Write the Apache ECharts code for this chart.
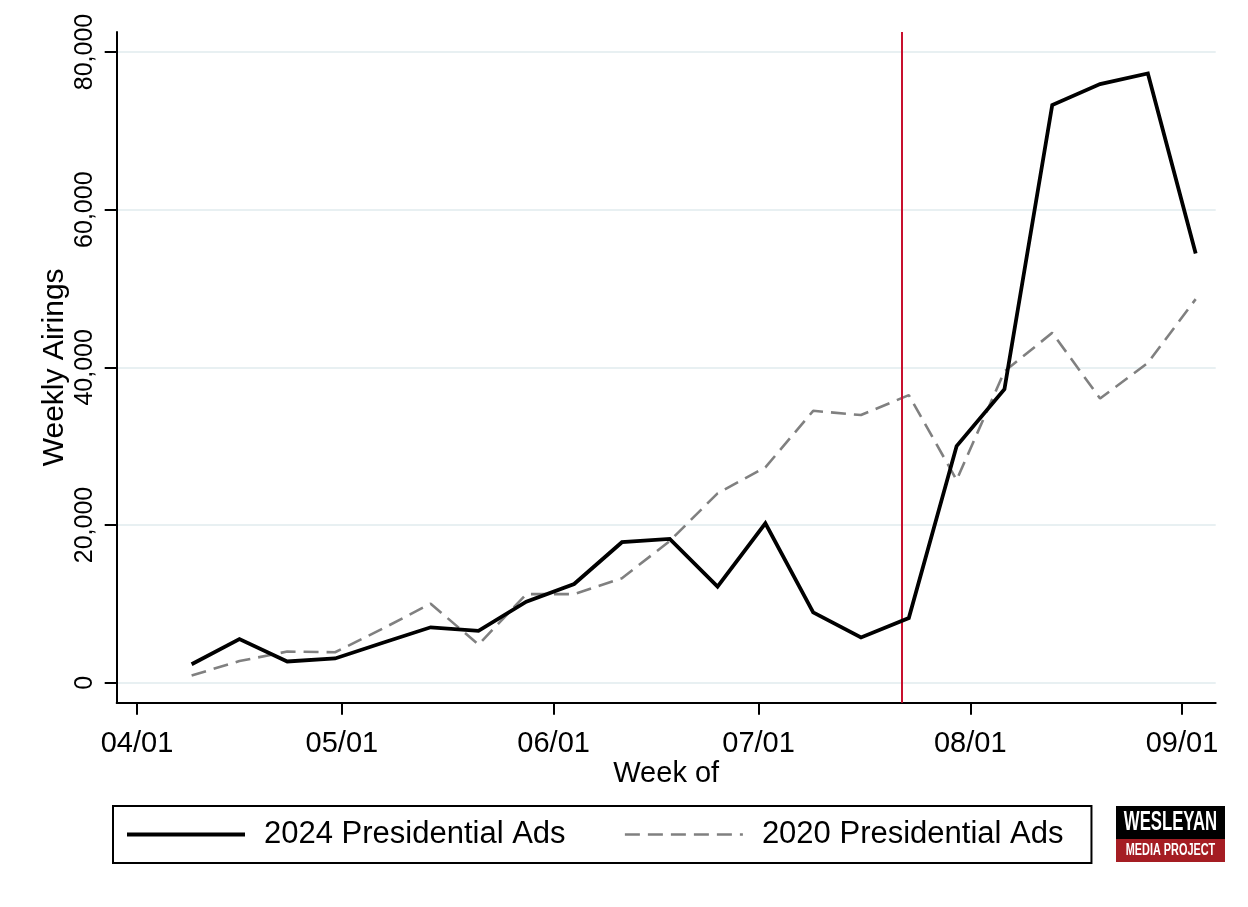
<!DOCTYPE html>
<html>
<head>
<meta charset="utf-8">
<script src="https://cdn.jsdelivr.net/npm/echarts@6/dist/echarts.min.js"></script>
<style>
html,body{margin:0;padding:0;background:#fff;}
#chart{width:1248px;height:907px;}
</style>
</head>
<body>
<div id="chart"></div>
<script>
// ---- data ----
const weeks = ['2024-04-09','2024-04-16','2024-04-23','2024-04-30','2024-05-07','2024-05-14','2024-05-21','2024-05-28','2024-06-04','2024-06-11','2024-06-18','2024-06-25','2024-07-02','2024-07-09','2024-07-16','2024-07-23','2024-07-30','2024-08-06','2024-08-13','2024-08-20','2024-08-27','2024-09-03'];
const ads2024 = [2370, 5560, 2730, 3110, 5100, 7060, 6600, 10310, 12550, 17850, 18270, 12230, 20250, 8950, 5780, 8230, 30040, 37250, 73280, 75940, 77290, 54460];
const ads2020 = [950, 2780, 3980, 3900, 6900, 10060, 4860, 11270, 11260, 13280, 18000, 24050, 27340, 34510, 33970, 36500, 25740, 39500, 44400, 36070, 40590, 48670];
const xTickLabels = ['04/01','05/01','06/01','07/01','08/01','09/01'];
const yTickValues = [0, 20000, 40000, 60000, 80000];
const eventDate = '2024-07-22';
const seriesNames = ['2024 Presidential Ads', '2020 Presidential Ads'];

const FONT = "'Liberation Sans', Arial, sans-serif";
const toDate = s => { const p = s.split('-').map(Number); return new Date(p[0], p[1]-1, p[2]); };
const xTicks = xTickLabels.map(t => { const p = t.split('/').map(Number); return new Date(2024, p[0]-1, p[1]).getTime(); });
const xMin = new Date(2024, 2, 29, 0, 45).getTime();
const xMax = new Date(2024, 8, 5, 22, 20).getTime();
const pad2 = n => (n < 10 ? '0' : '') + n;

const chart = echarts.init(document.getElementById('chart'), null, {renderer: 'canvas'});
const option = {
  backgroundColor: '#fff',
  animation: false,
  textStyle: {fontFamily: FONT},
  grid: [
    // grid 0: labelled value scale (0..80,000)
    {left: 116.7, right: 32.3, top: 52, bottom: 224.3},
    // grid 1: plot frame, holds the series
    {left: 116.7, right: 32.3, top: 32, bottom: 204.3}
  ],
  xAxis: [
    {gridIndex: 0, type: 'value', min: xMin, max: xMax, show: false},
    {gridIndex: 1, type: 'value', min: xMin, max: xMax,
      name: 'Week of', nameLocation: 'middle', nameGap: 57, nameMoveOverlap: false,
      nameTextStyle: {fontSize: 29, color: '#000', fontFamily: FONT},
      axisLine: {show: true, onZero: false, lineStyle: {color: '#000', width: 2}},
      axisTick: {show: true, length: 12, lineStyle: {color: '#000', width: 2}, customValues: xTicks},
      axisLabel: {show: true, customValues: xTicks, fontSize: 29, color: '#000', margin: 27, fontFamily: FONT,
        formatter: v => { const d = new Date(v); return pad2(d.getMonth()+1) + '/' + pad2(d.getDate()); }},
      splitLine: {show: false}
    }
  ],
  yAxis: [
    {gridIndex: 0, type: 'value', min: 0, max: 80000, interval: 20000,
      axisLine: {show: false, onZero: false},
      axisTick: {show: true, length: 12, lineStyle: {color: '#000', width: 2}},
      axisLabel: {show: true, rotate: 90, fontSize: 25, color: '#000', margin: 19, fontFamily: FONT,
        formatter: v => v.toLocaleString('en-US')},
      splitLine: {show: true, lineStyle: {color: '#e8f0f2', width: 2}}
    },
    {gridIndex: 1, type: 'value', min: -2500, max: 82540,
      name: 'Weekly Airings', nameLocation: 'middle', nameGap: 47, nameMoveOverlap: false,
      nameTextStyle: {fontSize: 30, color: '#000', fontFamily: FONT},
      axisLine: {show: true, onZero: false, lineStyle: {color: '#000', width: 2}},
      axisTick: {show: false}, axisLabel: {show: false}, splitLine: {show: false}
    }
  ],
  legend: {
    left: 113, top: 806,
    orient: 'horizontal',
    padding: [13, 28, 13, 12],
    borderColor: '#000', borderWidth: 2, backgroundColor: '#fff',
    itemWidth: 118, itemHeight: 20, itemGap: 58,
    itemStyle: {opacity: 0},
    textStyle: {fontSize: 31, color: '#000', fontFamily: FONT, padding: [0, 0, 0, 14]},
    data: [
      {name: seriesNames[0], lineStyle: {width: 4, opacity: 1}},
      {name: seriesNames[1], lineStyle: {width: 2.6, opacity: 1, type: [15, 8]}}
    ]
  },
  series: [
    {name: seriesNames[0], type: 'line', xAxisIndex: 1, yAxisIndex: 1,
      data: weeks.map((w, i) => [toDate(w).getTime(), ads2024[i]]),
      symbol: 'none', showSymbol: false, z: 5,
      lineStyle: {color: '#000', width: 3.8, join: 'miter'},
      itemStyle: {color: '#000'},
      markLine: {silent: true, symbol: 'none', label: {show: false},
        lineStyle: {color: '#c8102e', width: 2, type: 'solid'},
        data: [{xAxis: toDate(eventDate).getTime()}]}
    },
    {name: seriesNames[1], type: 'line', xAxisIndex: 1, yAxisIndex: 1,
      data: weeks.map((w, i) => [toDate(w).getTime(), ads2020[i]]),
      symbol: 'none', showSymbol: false, z: 4,
      lineStyle: {color: '#808080', width: 2.6, type: [15, 8]},
      itemStyle: {color: '#808080'}
    }
  ],
  graphic: [
    {type: 'rect', left: 1116, top: 806, shape: {width: 109, height: 34}, style: {fill: '#000'}},
    {type: 'rect', left: 1116, top: 839, shape: {width: 109, height: 23}, style: {fill: '#a51d23'}},
    {type: 'text', x: 1170.5, y: 823, scaleX: 0.62, originX: 0, originY: 0,
      style: {text: 'WESLEYAN', fill: '#fff', font: "bold 27px 'Liberation Sans', Arial", align: 'center', verticalAlign: 'middle'}},
    {type: 'text', x: 1170.5, y: 851, scaleX: 0.68, originX: 0, originY: 0,
      style: {text: 'MEDIA PROJECT', fill: '#fff', font: "bold 16px 'Liberation Sans', Arial", align: 'center', verticalAlign: 'middle'}}
  ]
};
chart.setOption(option);
</script>
</body>
</html>
